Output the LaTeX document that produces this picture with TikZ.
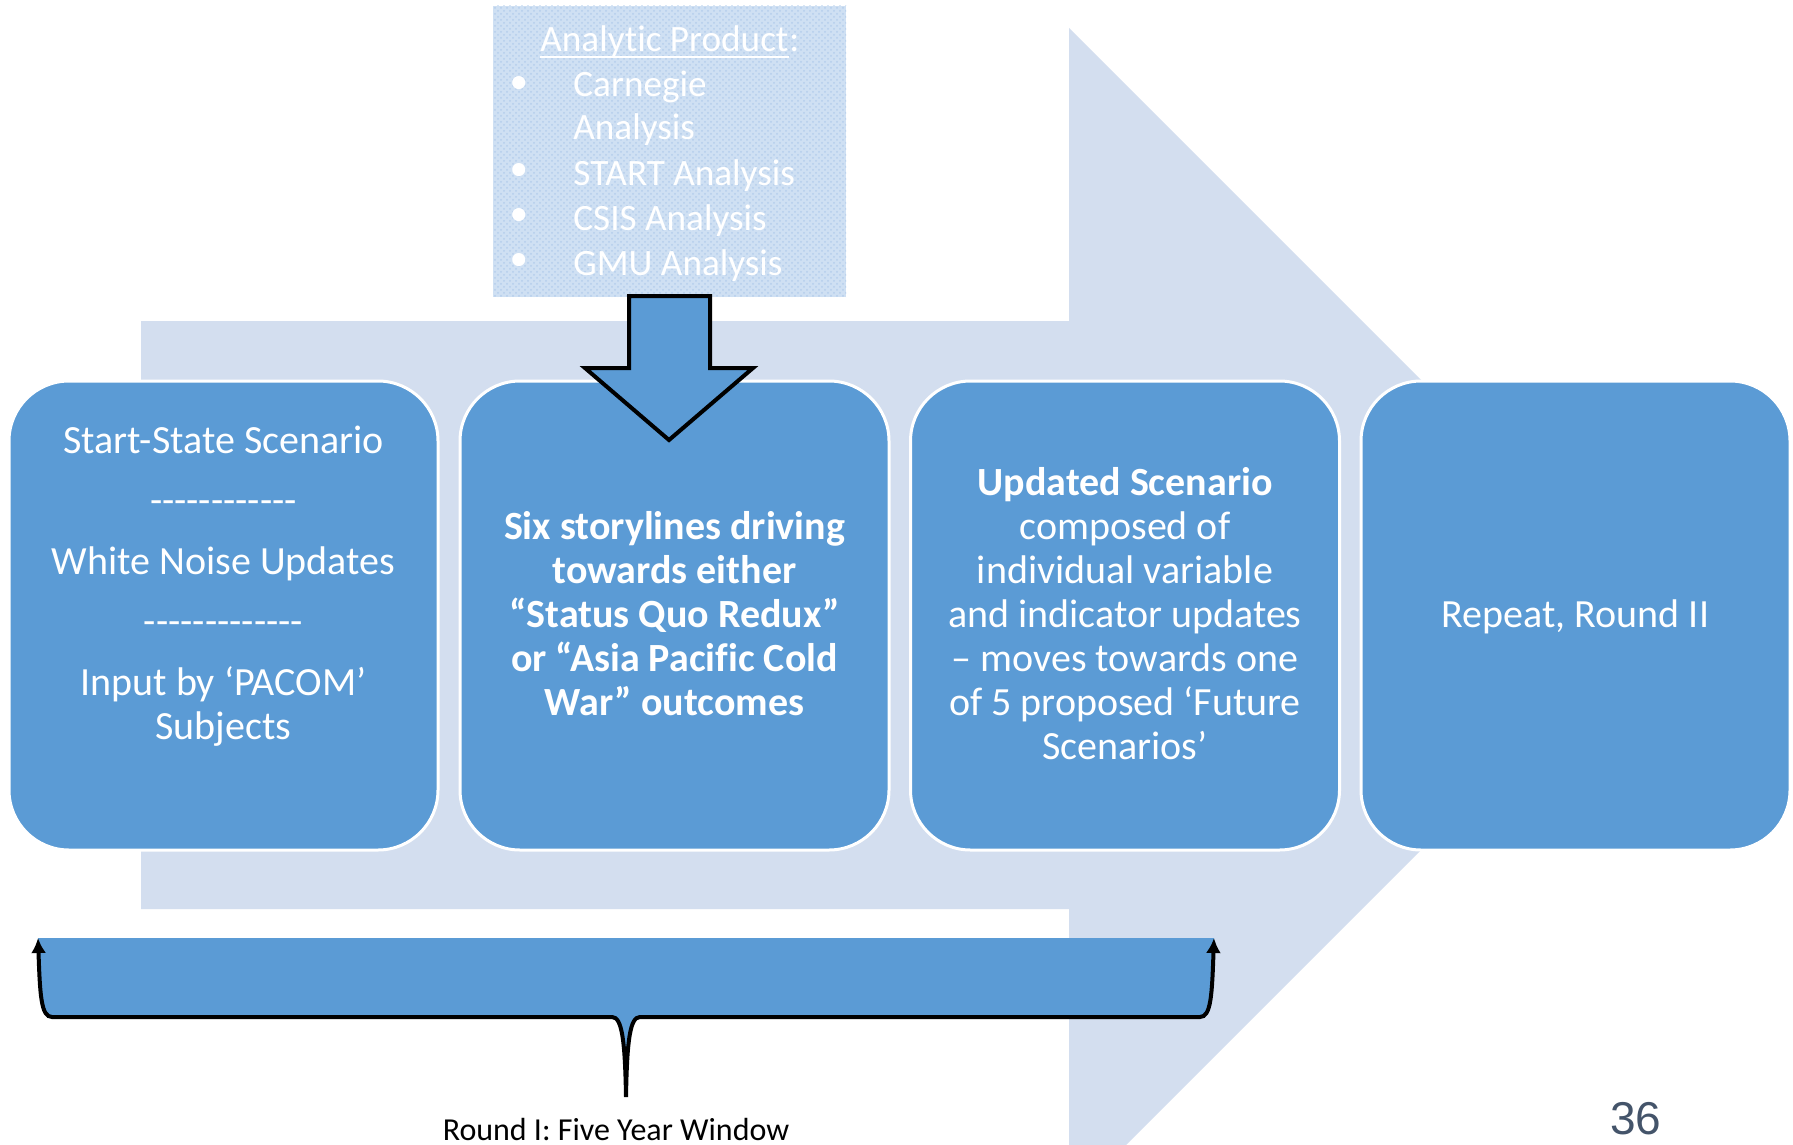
\documentclass[tikz,border=0pt]{standalone}
\usepackage{fontspec}
\setmainfont{Carlito}[Ligatures={TeXOff,NoCommon}]
\newfontfamily\numfont{Liberation Sans}
\usetikzlibrary{arrows.meta,patterns}
\definecolor{boxblue}{HTML}{5B9BD5}
\definecolor{paleblue}{HTML}{D3DEEF}
\definecolor{prodblue}{HTML}{CFE0F3}
\definecolor{prodsdots}{HTML}{B4CDEB}
\definecolor{slidegray}{HTML}{44546A}
\tikzset{bracetip/.tip={Latex[length=7.5pt,width=7.5pt]}}
\begin{document}
\begin{tikzpicture}[x=0.5pt,y=-0.5pt,
  stagebox/.style={draw=white, line width=1.5pt, fill=boxblue, rounded corners=30pt,
    minimum width=214.5pt, minimum height=234.5pt, inner sep=0pt},
  stagetext/.style={text=white, align=center, font=\fontsize{20}{22}\selectfont, inner sep=0pt},
  itemtext/.style={text=white, anchor=base west, font=\fontsize{18.6}{22}\selectfont, inner sep=0pt},
  bulletdot/.style={text=white, anchor=center, font=\fontsize{18.6}{22}\selectfont, inner sep=0pt},
]
\useasboundingbox (0,0) rectangle (1793,1145);
\clip (0,0) rectangle (1793,1145);
\fill[white] (0,0) rectangle (1793,1145);

% large background arrow
\fill[paleblue] (141,321) -- (1069,321) -- (1069,28) -- (1656,615)
  -- (1069,1202) -- (1069,909) -- (141,909) -- cycle;

% four stage boxes
\node[stagebox] (box1) at (223.5,615.5) {};
\node[stagebox] (box2) at (674.5,615.5) {};
\node[stagebox] (box3) at (1125,615.5) {};
\node[stagebox] (box4) at (1575.5,615.5) {};

\node[stagetext] (text1) at (223.5,586) {Start-State Scenario\\[8.3pt]
  ------------\\[8.3pt] White Noise Updates\\[8.3pt] -------------\\[8.3pt]
  Input by ‘PACOM’\\ Subjects};
\node[stagetext, font=\fontsize{20}{22}\selectfont\bfseries] (text2) at (674.5,614)
  {Six storylines driving\\ towards either\\ “Status Quo Redux”\\ or “Asia Pacific Cold\\ War” outcomes};
\node[stagetext] (text3) at (1125,614) {\textbf{Updated Scenario}\\ composed of\\ individual variable\\
  and indicator updates\\ – moves towards one\\ of 5 proposed ‘Future\\ Scenarios’};
\node[stagetext] (text4) at (1575.5,616.5) {Repeat, Round II};

% analytic product panel
\node[fill=prodblue, minimum width=176.5pt, minimum height=145.5pt, inner sep=0pt,
  postaction={pattern=crosshatch dots, pattern color=prodsdots}] (product) at (669.5,151.5) {};
\node[itemtext] (prodtitle) at (540,52) {Analytic Product};
\node[itemtext] (prodcolon) at (prodtitle.base east) {:};
\draw[white, line width=1.1pt] ([yshift=-2.6pt]prodtitle.base west) -- ([yshift=-2.6pt]prodtitle.base east);
\node[bulletdot] (b1) at (519,85) {•};
\node[bulletdot] (b2) at (519,172) {•};
\node[bulletdot] (b3) at (519,217) {•};
\node[bulletdot] (b4) at (519,262) {•};
\node[itemtext] (i1) at (573,97) {Carnegie};
\node[itemtext] (i1b) at (573,140) {Analysis};
\node[itemtext] (i2) at (573,185) {START Analysis};
\node[itemtext] (i3) at (573,230) {CSIS Analysis};
\node[itemtext] (i4) at (573,275) {GMU Analysis};

% block arrow from the panel into the second box
\draw[fill=boxblue, line width=2pt, line join=miter]
  (629,296) -- (710,296) -- (710,368) -- (753,368) -- (669,440) -- (585,368) -- (629,368) -- cycle;

% brace under the first three stages
\coordinate (braceL) at (38,938);
\coordinate (braceR) at (1214,938);
\coordinate (braceTip) at (626,1097);
\fill[boxblue] (braceL) .. controls (40,995) and (41,1017) .. (52,1017) -- (612,1017)
  .. controls (622,1017) and (625,1040) .. (braceTip)
  .. controls (627,1040) and (630,1017) .. (640,1017) -- (1200,1017)
  .. controls (1211,1017) and (1212,995) .. (braceR) -- cycle;
\draw[line width=2pt, {bracetip}-{bracetip}] (braceL) .. controls (40,995) and (41,1017) .. (52,1017) -- (612,1017)
  .. controls (622,1017) and (625,1040) .. (braceTip)
  .. controls (627,1040) and (630,1017) .. (640,1017) -- (1200,1017)
  .. controls (1211,1017) and (1212,995) .. (braceR);
\node[anchor=base, inner sep=0pt, font=\fontsize{16}{19}\selectfont] (roundlabel) at (616,1140)
  {Round I: Five Year Window};

% page number
\node[anchor=base west, inner sep=0pt, text=slidegray, font=\numfont\fontsize{23}{27}\selectfont]
  (pagenum) at (1610,1134) {36};
\end{tikzpicture}
\end{document}
